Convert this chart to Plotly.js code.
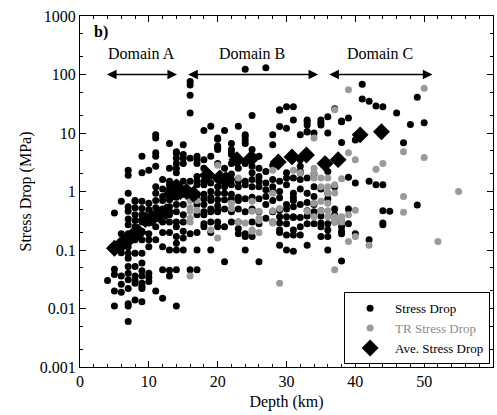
<!DOCTYPE html>
<html>
<head>
<meta charset="utf-8">
<script src="https://cdn.plot.ly/plotly-3.0.1.min.js"></script>
<style>html,body{margin:0;padding:0;background:#fff;}#chart{width:497px;height:415px;}</style>
</head>
<body>
<div id="chart"></div>
<script>
// Stress drop (MPa) grouped by depth column (km)
const stressDropColumns = [
  [4,  [0.03]],
  [5,  [0.43, 0.047, 0.038, 0.02, 0.011]],
  [6,  [0.68, 0.19, 0.09, 0.036, 0.026, 0.019]],
  [7,  [2.3, 1.9, 0.93, 0.55, 0.46, 0.34, 0.27, 0.19, 0.15, 0.114, 0.088, 0.072, 0.052, 0.04, 0.031, 0.022, 0.012, 0.011, 0.006]],
  [8,  [0.7, 0.68, 0.53, 0.4, 0.32, 0.25, 0.15, 0.088, 0.052, 0.036, 0.03, 0.027, 0.014]],
  [9,  [4.0, 2.1, 0.68, 0.51, 0.4, 0.3, 0.21, 0.15, 0.088, 0.06, 0.044, 0.036, 0.027, 0.024, 0.022, 0.013]],
  [10, [2.3, 0.63, 0.49, 0.37, 0.29, 0.19, 0.15, 0.114, 0.04, 0.034, 0.029]],
  [11, [9.3, 8.2, 4.6, 4.0, 2.7, 1.2, 0.93, 0.7, 0.53, 0.25, 0.15, 0.02]],
  [12, [1.6, 1.1, 0.82, 0.7, 0.5, 0.3, 0.2, 0.114, 0.046, 0.015]],
  [13, [6.6, 2.5, 1.5, 1.3, 1.1, 0.93, 0.72, 0.55, 0.4, 0.3, 0.2, 0.1, 0.045, 0.036]],
  [14, [4.8, 4.5, 3.7, 3.0, 2.5, 2.1, 1.4, 1.1, 0.8, 0.6, 0.45, 0.3, 0.25, 0.17, 0.13, 0.1, 0.046, 0.011]],
  [15, [6.3, 4.3, 3.7, 3.0, 1.5, 0.9, 0.6, 0.4, 0.3, 0.21, 0.16, 0.1]],
  [16, [76, 66, 44, 22, 3.7, 1.5, 0.9, 0.19, 0.046]],
  [17, [4.0, 3.5, 3.0, 1.8, 1.5, 1.3, 0.9, 0.75, 0.6, 0.4, 0.2, 0.1, 0.046]],
  [18, [11, 3.5, 2.5, 1.5, 1.3, 0.9, 0.75, 0.6, 0.45, 0.4, 0.28, 0.25]],
  [19, [13, 4.0, 1.4, 1.0, 0.8, 0.7, 0.5, 0.45, 0.3, 0.2, 0.1]],
  [20, [8.2, 7.8, 6.0, 5.7, 5.2, 3.0, 1.6, 1.2, 0.93, 0.72, 0.57, 0.48, 0.45, 0.3, 0.25]],
  [21, [11, 2.5, 1.8, 1.6, 1.2, 0.93, 0.72, 0.5, 0.25, 0.063]],
  [22, [6.6, 5.2, 4.6, 4.3, 3.0, 2.0, 1.6, 1.3, 0.9, 0.75, 0.45, 0.3]],
  [23, [13, 2.5, 1.5, 1.2, 0.8, 0.7, 0.5, 0.3, 0.23, 0.19]],
  [24, [123, 9.3, 8.7, 7.6, 6.6, 3.0, 1.5, 1.3, 0.75, 0.45, 0.19, 0.17, 0.1]],
  [25, [20, 5.2, 2.7, 2.1, 1.6, 1.2, 0.8, 0.5, 0.3, 0.17]],
  [26, [4.0, 2.5, 1.8, 1.5, 1.2, 0.75, 0.45, 0.28, 0.063]],
  [27, [131, 2.2, 1.4, 1.07, 0.82, 0.6, 0.35]],
  [28, [9.3, 6.3, 2.8, 1.6, 1.2, 1.0, 0.7, 0.45, 0.3]],
  [29, [25, 24.6, 12.9, 1.5, 1.0, 0.78, 0.48, 0.37, 0.29, 0.22, 0.2, 0.12]],
  [30, [28, 12, 2.1, 1.7, 1.3, 0.6, 0.5, 0.37, 0.28, 0.18, 0.1]],
  [31, [28, 16.6, 1.7, 0.93, 0.8, 0.7, 0.55, 0.37, 0.36, 0.22, 0.18, 0.095]],
  [32, [9.3, 3.5, 2.7, 2.2, 2.1, 1.6, 1.1, 0.6, 0.36, 0.25, 0.18]],
  [33, [16.6, 15.6, 13.7, 10.6, 10.4, 1.7, 0.93, 0.65, 0.47, 0.38, 0.28, 0.12]],
  [34, [10, 2.0, 1.2, 0.82, 0.6, 0.45, 0.28]],
  [35, [16.6, 15, 13.7, 1.1, 0.47, 0.38, 0.29, 0.25, 0.17]],
  [36, [19, 10, 2.2, 0.93, 0.75, 0.28, 0.22, 0.17, 0.1]],
  [37, [26, 1.2, 0.5, 0.4, 0.3]],
  [38, [16, 15.6, 6.9, 0.3, 0.25, 0.21, 0.19, 0.065]],
  [39, [18, 1.75, 0.5, 0.28]],
  [40, [7.6, 1.4, 0.19]],
  [41, [68, 38]],
  [42, [35, 1.5, 0.15]],
  [43, [29, 1.3]],
  [44, [28, 1.3, 0.47, 0.29, 0.27]],
  [45, [0.46]],
  [46, [22]],
  [47, [6.8]],
  [48, [14]],
  [49, [41, 0.59]],
  [50, [15]]
];

// TR stress drop: [depth km, MPa]
const trStressDrop = [
  [16, 0.7], [16, 0.53], [16, 0.46], [16, 0.35], [16, 0.3], [16, 0.036], [17, 0.7], [17, 0.48],
  [19, 0.22], [20, 2.8], [20, 0.16], [22, 0.63], [22, 0.51], [23, 1.7], [23, 0.3], [24, 0.29],
  [25, 0.68], [25, 0.46], [25, 0.22], [25, 0.21], [26, 0.46], [26, 0.35], [26, 0.32], [26, 0.2],
  [28, 2.3], [28, 0.93], [28, 0.47], [28, 0.3], [28, 0.29], [29, 0.51], [29, 0.027],
  [31, 2.3], [32, 2.1], [33, 0.46], [34, 8.2], [34, 2.5], [34, 2.1], [34, 1.7], [34, 0.63], [34, 0.37],
  [35, 1.7], [35, 1.2], [35, 0.68], [35, 0.47], [36, 1.7], [36, 1.2], [36, 0.93], [36, 0.63], [36, 0.47], [36, 0.37],
  [37, 25], [37, 1.3], [37, 0.94], [37, 0.37], [37, 0.35], [37, 0.3], [37, 0.046],
  [38, 1.65], [38, 0.37], [38, 0.35], [38, 0.3], [39, 55], [39, 4.6], [39, 0.4], [39, 0.14],
  [40, 3.5], [40, 0.48], [40, 0.17], [42, 0.12], [43, 2.4], [44, 3.0],
  [47, 4.8], [47, 0.82], [47, 0.44], [50, 58], [50, 3.8], [52, 0.14], [55, 1.0]
];

// Average stress drop
const aveDepth = [5, 5.8, 6.5, 7.5, 8.5, 9.5, 10.5, 11.5, 12.5, 13.2, 14, 14.6, 15.5, 16.5, 18.5, 20.3, 21.2, 22.8, 24.9, 28.8, 30.8, 32.9, 35.6, 37.5, 40.7, 43.8];
const aveMPa   = [0.107, 0.12, 0.14, 0.17, 0.2, 0.33, 0.35, 0.4, 0.45, 0.9, 1.2, 1.0, 1.0, 0.9, 1.9, 1.7, 1.6, 3.5, 3.7, 3.2, 3.9, 4.2, 3.0, 3.5, 9.3, 10.5];

const yTickVals = [0.001, 0.01, 0.1, 1, 10, 100, 1000];
const yTickText = ['0.001', '0.01', '0.1', '1', '10', '100', '1000'];

// Domains: [label, start depth, end depth]
const domains = [['Domain A', 3.7, 14.1], ['Domain B', 15.5, 34.6], ['Domain C', 36.0, 51.2]];

const sdX = [], sdY = [];
stressDropColumns.forEach(([d, vals]) => vals.forEach(v => { sdX.push(d); sdY.push(v); }));
const trX = trStressDrop.map(p => p[0]), trY = trStressDrop.map(p => p[1]);

const serif = '"Liberation Serif", "Times New Roman", Times, serif';

const traces = [
  {x: sdX, y: sdY, type: 'scatter', mode: 'markers', name: 'Stress Drop',
   marker: {color: '#000', size: 7}},
  {x: trX, y: trY, type: 'scatter', mode: 'markers', name: '<span style="color:#8c8c8c">TR Stress Drop</span>',
   marker: {color: '#9a9a9a', size: 7}},
  {x: aveDepth, y: aveMPa, type: 'scatter', mode: 'markers', name: 'Ave. Stress Drop',
   marker: {color: '#000', size: 13, symbol: 'diamond'}}
];

const annotations = [
  {xref: 'paper', yref: 'paper', x: 0.028, y: 0.955, text: '<b>b)</b>', showarrow: false,
   xanchor: 'left', yanchor: 'middle', font: {family: serif, size: 16, color: '#000'}}
];
domains.forEach(([label, a, b]) => {
  annotations.push({x: (a + b) / 2, y: Math.log10(230), xref: 'x', yref: 'y', text: label, showarrow: false,
    font: {family: serif, size: 16, color: '#000'}});
  annotations.push({x: b, y: 2, ax: a, ay: 2, xref: 'x', yref: 'y', axref: 'x', ayref: 'y',
    text: '', showarrow: true, arrowhead: 2, startarrowhead: 2, arrowside: 'end+start',
    arrowsize: 1.2, startarrowsize: 1.2, arrowwidth: 1.6, arrowcolor: '#000'});
});

const layout = {
  width: 497, height: 415,
  margin: {l: 80, r: 4, t: 16, b: 48},
  paper_bgcolor: '#fff', plot_bgcolor: '#fff',
  font: {family: serif, size: 16, color: '#000'},
  showlegend: true,
  legend: {x: 0.993, y: 0.008, xanchor: 'right', yanchor: 'bottom', bgcolor: '#fff',
    bordercolor: '#000', borderwidth: 1, font: {family: serif, size: 13, color: '#000'},
    tracegroupgap: 0, itemwidth: 40},
  xaxis: {range: [0, 60], dtick: 10, ticks: 'inside', ticklen: 6, tickcolor: '#000',
    showline: true, linecolor: '#000', linewidth: 1, mirror: 'allticks', showgrid: false, zeroline: false,
    minor: {dtick: 2, ticks: 'inside', ticklen: 3, tickcolor: '#000', showgrid: false},
    title: {text: 'Depth (km)', font: {family: serif, size: 16}, standoff: 6},
    tickfont: {family: serif, size: 16}},
  yaxis: {type: 'log', range: [-3, 3], tickvals: yTickVals, ticktext: yTickText,
    ticks: 'inside', ticklen: 6, tickcolor: '#000',
    showline: true, linecolor: '#000', linewidth: 1, mirror: 'allticks', showgrid: false, zeroline: false,
    minor: {ticks: 'inside', ticklen: 3, tickcolor: '#000', showgrid: false},
    title: {text: 'Stress Drop (MPa)', font: {family: serif, size: 16}, standoff: 4},
    tickfont: {family: serif, size: 16}},
  annotations: annotations
};

Plotly.newPlot('chart', traces, layout, {staticPlot: true, displayModeBar: false});
</script>
</body>
</html>
